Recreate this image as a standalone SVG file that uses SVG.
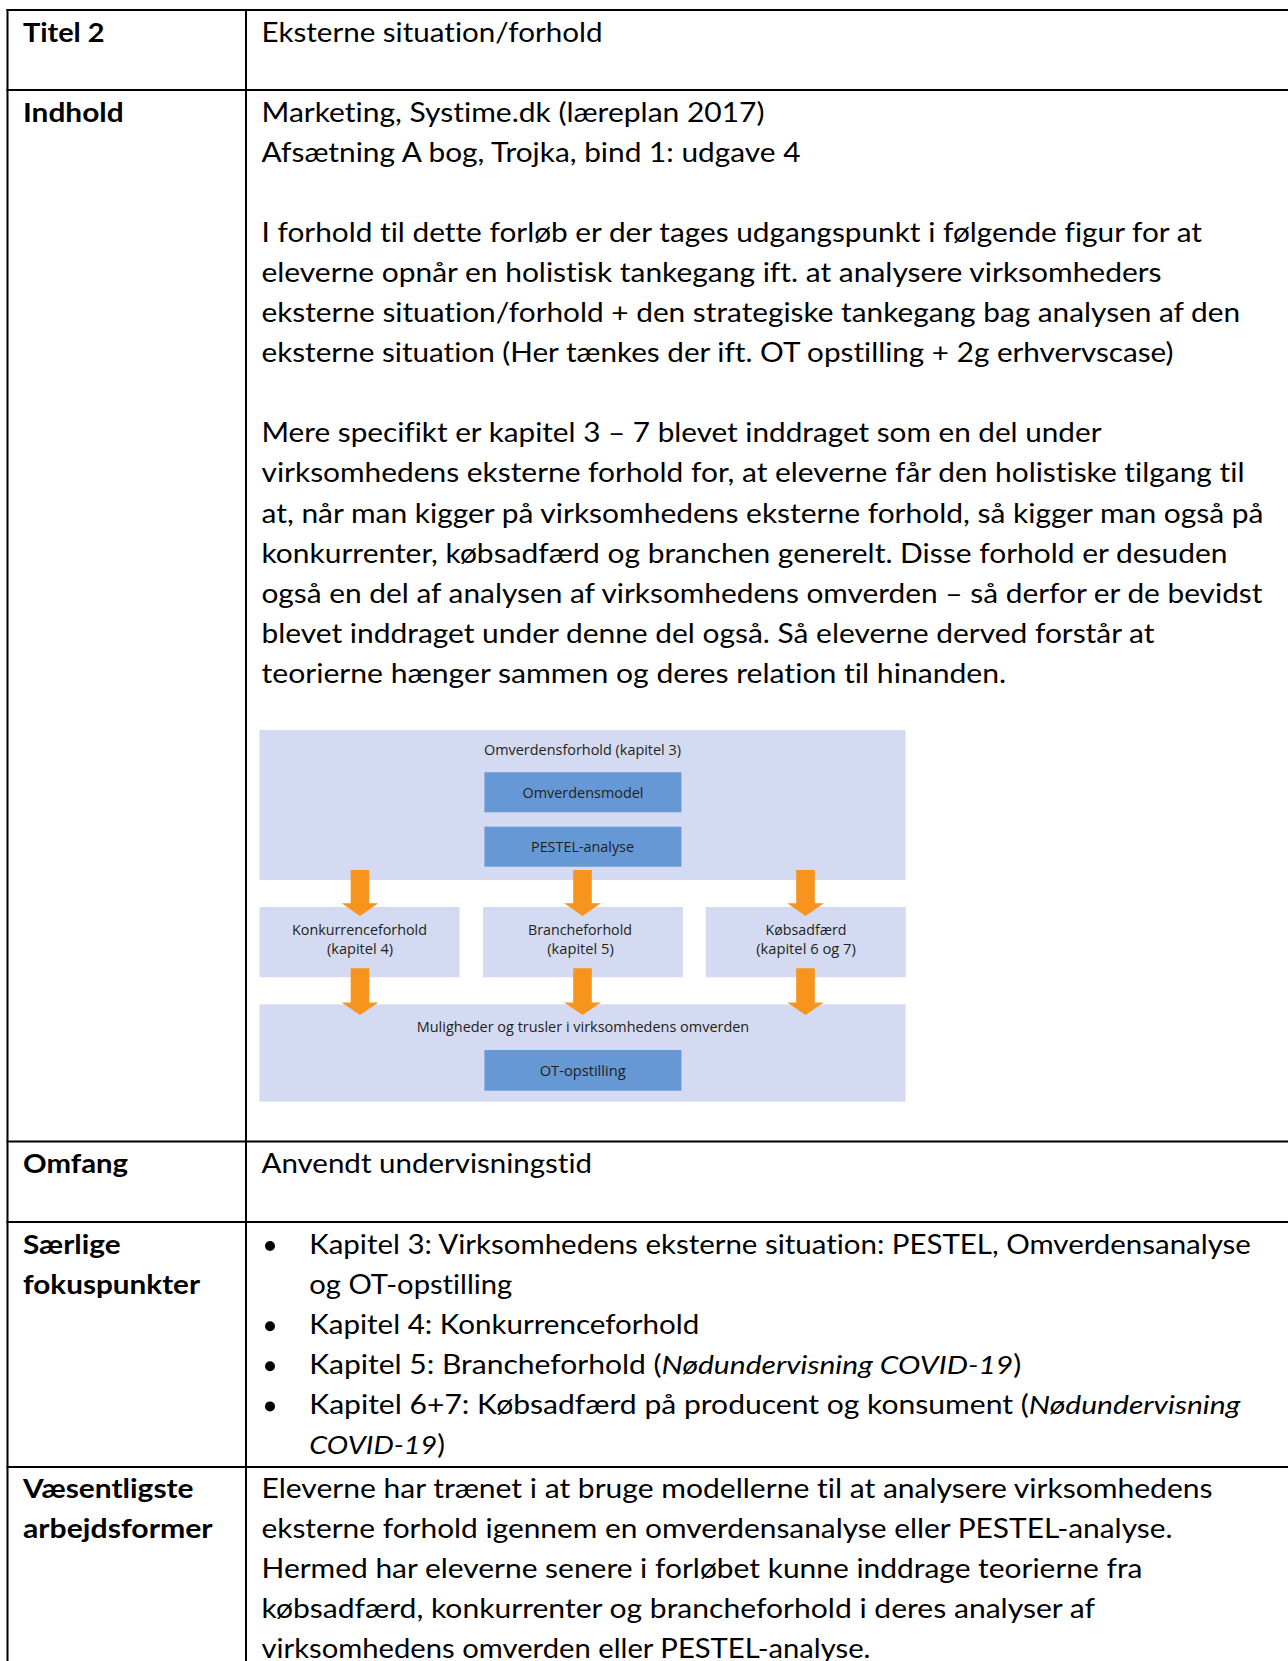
<svg xmlns="http://www.w3.org/2000/svg" width="1288" height="1661" viewBox="0 0 1288 1661">
<style>
  .t { font-family: Lato, "Open Sans", "Liberation Sans", sans-serif; font-size: 26px; fill: #000; font-variant-ligatures: none; }
  .b { font-weight: 700; }
  .i { font-style: italic; }
  .grid { stroke: #000; stroke-width: 2; fill: none; }
  .bg { fill: #D4DAF1; }
  .bx { fill: #6698D6; }
  .ft { font-family: "Open Sans", "Noto Sans", "Liberation Sans", sans-serif; font-size: 14.5px; fill: #231F20; text-anchor: middle; }
  .arr { fill: #F7941D; }
</style>
<rect width="1288" height="1661" fill="#fff"/>

<g id="table-grid" class="grid">
  <line x1="6.5" y1="10" x2="1288" y2="10"/>
  <line x1="6.5" y1="90" x2="1288" y2="90"/>
  <line x1="6.5" y1="1141.5" x2="1288" y2="1141.5"/>
  <line x1="6.5" y1="1222" x2="1288" y2="1222"/>
  <line x1="6.5" y1="1467" x2="1288" y2="1467"/>
  <line x1="7.5" y1="9" x2="7.5" y2="1661"/>
  <line x1="246" y1="9" x2="246" y2="1661"/>
</g>

<g id="row-titel">
  <text class="t b" x="23" y="41.5" textLength="81.6" lengthAdjust="spacingAndGlyphs">Titel 2</text>
  <text class="t" x="261.5" y="41.5" textLength="341" lengthAdjust="spacingAndGlyphs">Eksterne situation/forhold</text>
</g>

<g id="row-indhold">
  <text class="t b" x="23" y="121.5" textLength="100.6" lengthAdjust="spacingAndGlyphs">Indhold</text>
  <text class="t" x="261.5" y="121.5" textLength="503" lengthAdjust="spacingAndGlyphs">Marketing, Systime.dk (læreplan 2017)</text>
  <text class="t" x="261.5" y="161.6" textLength="539" lengthAdjust="spacingAndGlyphs">Afsætning A bog, Trojka, bind 1: udgave 4</text>
  <text class="t" x="261.5" y="241.8" textLength="940.5" lengthAdjust="spacingAndGlyphs">I forhold til dette forløb er der tages udgangspunkt i følgende figur for at</text>
  <text class="t" x="261.5" y="281.9" textLength="900" lengthAdjust="spacingAndGlyphs">eleverne opnår en holistisk tankegang ift. at analysere virksomheders</text>
  <text class="t" x="261.5" y="322" textLength="978.6" lengthAdjust="spacingAndGlyphs">eksterne situation/forhold + den strategiske tankegang bag analysen af den</text>
  <text class="t" x="261.5" y="362.1" textLength="912" lengthAdjust="spacingAndGlyphs">eksterne situation (Her tænkes der ift. OT opstilling + 2g erhvervscase)</text>
  <text class="t" x="261.5" y="442.3" textLength="840" lengthAdjust="spacingAndGlyphs">Mere specifikt er kapitel 3 – 7 blevet inddraget som en del under</text>
  <text class="t" x="261.5" y="482.4" textLength="983" lengthAdjust="spacingAndGlyphs">virksomhedens eksterne forhold for, at eleverne får den holistiske tilgang til</text>
  <text class="t" x="261.5" y="522.5" textLength="1002" lengthAdjust="spacingAndGlyphs">at, når man kigger på virksomhedens eksterne forhold, så kigger man også på</text>
  <text class="t" x="261.5" y="562.6" textLength="966" lengthAdjust="spacingAndGlyphs">konkurrenter, købsadfærd og branchen generelt. Disse forhold er desuden</text>
  <text class="t" x="261.5" y="602.7" textLength="1001" lengthAdjust="spacingAndGlyphs">også en del af analysen af virksomhedens omverden – så derfor er de bevidst</text>
  <text class="t" x="261.5" y="642.8" textLength="893" lengthAdjust="spacingAndGlyphs">blevet inddraget under denne del også. Så eleverne derved forstår at</text>
  <text class="t" x="261.5" y="682.9" textLength="744.7" lengthAdjust="spacingAndGlyphs">teorierne hænger sammen og deres relation til hinanden.</text>
</g>

<g id="fig-omverdensforhold">
  <rect class="bg" x="259.5" y="730" width="646" height="150"/>
  <text class="ft" x="582.5" y="754.5" textLength="197" lengthAdjust="spacingAndGlyphs">Omverdensforhold (kapitel 3)</text>
</g>
<g id="fig-omverdensmodel">
  <rect class="bx" x="484.4" y="772.3" width="197" height="40"/>
  <text class="ft" x="583" y="797.5" textLength="121" lengthAdjust="spacingAndGlyphs">Omverdensmodel</text>
</g>
<g id="fig-pestel">
  <rect class="bx" x="484.4" y="826.7" width="197" height="40"/>
  <text class="ft" x="582.5" y="852" textLength="103" lengthAdjust="spacingAndGlyphs">PESTEL-analyse</text>
</g>
<g id="fig-konkurrence">
  <rect class="bg" x="259.5" y="907" width="200" height="70.3"/>
  <text class="ft" x="359.5" y="934.5" textLength="135" lengthAdjust="spacingAndGlyphs">Konkurrenceforhold</text>
  <text class="ft" x="360" y="954" textLength="66" lengthAdjust="spacingAndGlyphs">(kapitel 4)</text>
</g>
<g id="fig-branche">
  <rect class="bg" x="483" y="907" width="200" height="70.3"/>
  <text class="ft" x="580" y="934.5" textLength="104" lengthAdjust="spacingAndGlyphs">Brancheforhold</text>
  <text class="ft" x="580.5" y="954" textLength="66.5" lengthAdjust="spacingAndGlyphs">(kapitel 5)</text>
</g>
<g id="fig-kobsadfaerd">
  <rect class="bg" x="705.8" y="907" width="200" height="70.3"/>
  <text class="ft" x="806" y="934.5" textLength="81" lengthAdjust="spacingAndGlyphs">Købsadfærd</text>
  <text class="ft" x="806" y="954" textLength="99.7" lengthAdjust="spacingAndGlyphs">(kapitel 6 og 7)</text>
</g>
<g id="fig-muligheder">
  <rect class="bg" x="259.5" y="1004.3" width="646" height="97.4"/>
  <text class="ft" x="583" y="1032" textLength="332.5" lengthAdjust="spacingAndGlyphs">Muligheder og trusler i virksomhedens omverden</text>
</g>
<g id="fig-ot">
  <rect class="bx" x="484.4" y="1050" width="197" height="40.7"/>
  <text class="ft" x="582.7" y="1075.5" textLength="86" lengthAdjust="spacingAndGlyphs">OT-opstilling</text>
</g>

<g id="connectors" class="arr">
  <polygon points="350.7,870 369.3,870 369.3,903.3 378.3,903.3 360,916 341.7,903.3 350.7,903.3"/>
  <polygon points="573.2,870 591.8,870 591.8,903.3 600.8,903.3 582.5,916 564.2,903.3 573.2,903.3"/>
  <polygon points="796.2,870 814.8,870 814.8,903.3 823.8,903.3 805.5,916 787.2,903.3 796.2,903.3"/>
  <polygon points="350.7,968.3 369.3,968.3 369.3,1002.5 378.3,1002.5 360,1015 341.7,1002.5 350.7,1002.5"/>
  <polygon points="573.2,968.3 591.8,968.3 591.8,1002.5 600.8,1002.5 582.5,1015 564.2,1002.5 573.2,1002.5"/>
  <polygon points="796.2,968.3 814.8,968.3 814.8,1002.5 823.8,1002.5 805.5,1015 787.2,1002.5 796.2,1002.5"/>
</g>

<g id="row-omfang">
  <text class="t b" x="23" y="1173" textLength="105" lengthAdjust="spacingAndGlyphs">Omfang</text>
  <text class="t" x="261.5" y="1173" textLength="330.5" lengthAdjust="spacingAndGlyphs">Anvendt undervisningstid</text>
</g>

<g id="row-saerlige">
  <text class="t b" x="23" y="1253.5" textLength="97.5" lengthAdjust="spacingAndGlyphs">Særlige</text>
  <text class="t b" x="23" y="1293.6" textLength="177" lengthAdjust="spacingAndGlyphs">fokuspunkter</text>
  <circle cx="270" cy="1246" r="5"/>
  <circle cx="270" cy="1326.2" r="5"/>
  <circle cx="270" cy="1366.3" r="5"/>
  <circle cx="270" cy="1406.4" r="5"/>
  <text class="t" x="309.3" y="1253.5" textLength="941.6" lengthAdjust="spacingAndGlyphs">Kapitel 3: Virksomhedens eksterne situation: PESTEL, Omverdensanalyse</text>
  <text class="t" x="309.3" y="1293.6" textLength="203" lengthAdjust="spacingAndGlyphs">og OT-opstilling</text>
  <text class="t" x="309.3" y="1333.7" textLength="390" lengthAdjust="spacingAndGlyphs">Kapitel 4: Konkurrenceforhold</text>
  <text class="t" x="309.3" y="1373.8" textLength="712" lengthAdjust="spacingAndGlyphs">Kapitel 5: Brancheforhold (<tspan class="i">Nødundervisning COVID-19</tspan>)</text>
  <text class="t" x="309.3" y="1413.9" textLength="931" lengthAdjust="spacingAndGlyphs">Kapitel 6+7: Købsadfærd på producent og konsument (<tspan class="i">Nødundervisning</tspan></text>
  <text class="t" x="309.3" y="1454" textLength="135.6" lengthAdjust="spacingAndGlyphs"><tspan class="i">COVID-19</tspan>)</text>
</g>

<g id="row-vaesentligste">
  <text class="t b" x="23" y="1498" textLength="170.5" lengthAdjust="spacingAndGlyphs">Væsentligste</text>
  <text class="t b" x="23" y="1538.1" textLength="189.6" lengthAdjust="spacingAndGlyphs">arbejdsformer</text>
  <text class="t" x="261.5" y="1498" textLength="951" lengthAdjust="spacingAndGlyphs">Eleverne har trænet i at bruge modellerne til at analysere virksomhedens</text>
  <text class="t" x="261.5" y="1538.1" textLength="911" lengthAdjust="spacingAndGlyphs">eksterne forhold igennem en omverdensanalyse eller PESTEL-analyse.</text>
  <text class="t" x="261.5" y="1578.2" textLength="881" lengthAdjust="spacingAndGlyphs">Hermed har eleverne senere i forløbet kunne inddrage teorierne fra</text>
  <text class="t" x="261.5" y="1618.3" textLength="833.6" lengthAdjust="spacingAndGlyphs">købsadfærd, konkurrenter og brancheforhold i deres analyser af</text>
  <text class="t" x="261.5" y="1657.5" textLength="609" lengthAdjust="spacingAndGlyphs">virksomhedens omverden eller PESTEL-analyse.</text>
</g>
</svg>
